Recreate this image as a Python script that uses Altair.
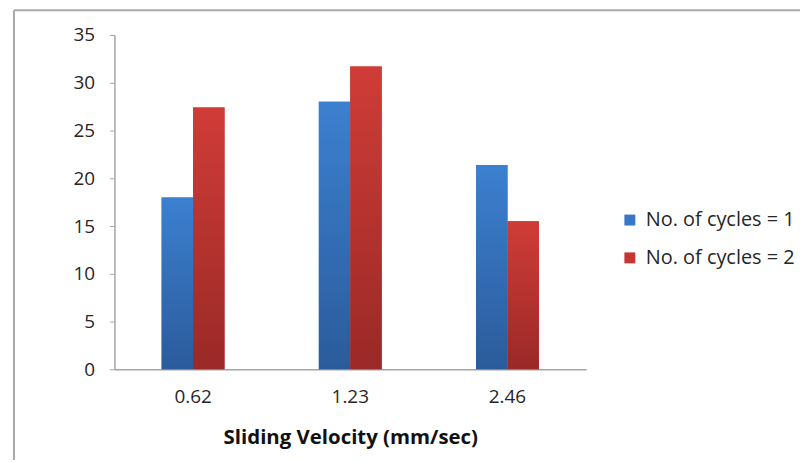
import altair as alt
import pandas as pd

velocities = ["0.62", "1.23", "2.46"]
cycles_1 = [18.0, 28.0, 21.4]
cycles_2 = [27.4, 31.7, 15.5]
series_names = ["No. of cycles = 1", "No. of cycles = 2"]
y_ticks = [0, 5, 10, 15, 20, 25, 30, 35]

rows = []
for v, a, b in zip(velocities, cycles_1, cycles_2):
    rows.append({"velocity": v, "series": series_names[0], "value": a})
    rows.append({"velocity": v, "series": series_names[1], "value": b})
df = pd.DataFrame(rows)

FONT = "Open Sans"
AXIS_GREY = "#a6a6a6"
TEXT = "#262626"

x_enc = alt.X(
    "velocity:N",
    sort=velocities,
    scale=alt.Scale(paddingInner=0.6, paddingOuter=0.3),
    axis=alt.Axis(
        title="Sliding Velocity (mm/sec)",
        labelAngle=0,
        ticks=False,
        domainColor=AXIS_GREY,
        domainWidth=1.5,
        labelFontSize=19,
        labelPadding=18,
        labelColor=TEXT,
        labelFont=FONT,
        titleFontSize=20.5,
        titleFont=FONT,
        titleFontWeight="bold",
        titleColor="#111111",
        titlePadding=22,
    ),
)
xoff_enc = alt.XOffset("series:N", scale=alt.Scale(domain=series_names))
y_enc = alt.Y(
    "value:Q",
    scale=alt.Scale(domain=[0, 35]),
    axis=alt.Axis(
        values=y_ticks,
        grid=False,
        title=None,
        tickSize=5,
        tickColor=AXIS_GREY,
        domainColor=AXIS_GREY,
        domainWidth=1.5,
        labelPadding=15,
        labelFontSize=19,
        labelFont=FONT,
        labelColor=TEXT,
    ),
)

base = alt.Chart(df).mark_bar().encode(
    x=x_enc,
    xOffset=xoff_enc,
    y=y_enc,
    color=alt.Color(
        "series:N",
        scale=alt.Scale(domain=series_names, range=["#3877c6", "#c53733"]),
        legend=alt.Legend(
            title=None,
            orient="none",
            legendX=508,
            legendY=176,
            symbolType="square",
            symbolSize=121,
            symbolStrokeWidth=0,
            labelFontSize=20,
            labelFont=FONT,
            labelColor=TEXT,
            labelLimit=300,
            rowPadding=18,
            labelOffset=6,
            padding=0,
        ),
    ),
)

def grad(top, bottom):
    return alt.Gradient(
        gradient="linear",
        stops=[alt.GradientStop(color=top, offset=0), alt.GradientStop(color=bottom, offset=1)],
        x1=0, x2=0, y1=0, y2=1,
    )

blue_bars = alt.Chart(df).transform_filter(alt.datum.series == series_names[0]).mark_bar(
    fill=grad("#3c80d0", "#2b5b9b")
).encode(x=x_enc, xOffset=xoff_enc, y=y_enc)

red_bars = alt.Chart(df).transform_filter(alt.datum.series == series_names[1]).mark_bar(
    fill=grad("#d03c37", "#9a2927")
).encode(x=x_enc, xOffset=xoff_enc, y=y_enc)

frame_df = pd.DataFrame({"k": [0]})
top_border = alt.Chart(frame_df).mark_rule(color="#a8a8a8", strokeWidth=2, clip=False).encode(
    x=alt.value(-101), x2=alt.value(710), y=alt.value(-25)
)
left_border = alt.Chart(frame_df).mark_rule(color="#a8a8a8", strokeWidth=2, clip=False).encode(
    x=alt.value(-101), y=alt.value(-25), y2=alt.value(440)
)

chart = alt.layer(base, blue_bars, red_bars, top_border, left_border).properties(
    width=474,
    height=336,
    autosize=alt.AutoSizeParams(type="none"),
    padding={"left": 107, "top": 26, "right": 215, "bottom": 90},
).configure_view(stroke=None)

chart.save("out.html", embed_options={"renderer": "svg", "actions": False})
